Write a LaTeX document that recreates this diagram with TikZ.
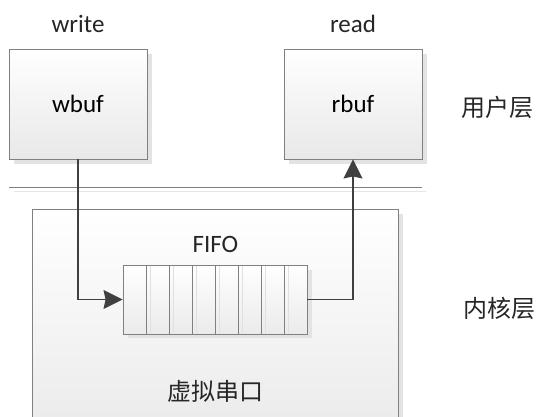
\documentclass[tikz,border=0pt]{standalone}
\usepackage{fontspec}
\setmainfont{Carlito}
\newfontfamily\cjk{Noto Sans CJK SC}
\usetikzlibrary{arrows.meta, shadows, positioning}
\definecolor{edgegray}{HTML}{808080}
\definecolor{linkgray}{HTML}{404040}
\tikzset{
  bufbox/.style={
    rectangle,
    minimum width=138pt,
    minimum height=110pt,
    draw=edgegray,
    line width=0.9pt,
    top color=white,
    bottom color=black!9,
    drop shadow={shadow xshift=5pt, shadow yshift=-5pt, fill=black!11, opacity=1},
    font=\fontsize{25}{30}\selectfont
    },
  kernelbox/.style={
    rectangle,
    minimum width=366pt,
    minimum height=222pt,
    draw=edgegray,
    line width=0.9pt,
    top color=white,
    bottom color=black!8,
    drop shadow={shadow xshift=5pt, shadow yshift=-5pt, fill=black!11, opacity=1}
    },
  fifocell/.style={
    rectangle,
    minimum width=23pt,
    minimum height=69pt,
    inner sep=0pt,
    draw=edgegray,
    line width=0.9pt,
    top color=white,
    bottom color=black!8
    },
  cellshade/.style={black!12, line width=0.8pt},
  tag/.style={font=\fontsize{25}{30}\selectfont, text=black!85},
  layer/.style={font=\cjk\fontsize{24}{28}\selectfont, text=black!85},
  link/.style={
    draw=linkgray,
    line width=1.3pt,
    -{Stealth[length=19pt, width=19pt, inset=2pt]}
    },
  sepline/.style={edgegray, line width=1pt}
}

\begin{document}
\begin{tikzpicture}[x=1pt, y=-1pt]
\useasboundingbox (0,0) rectangle (539,416);
\clip (0,0) rectangle (539,416);

% kernel side
\node (kernel) [kernelbox] at (215,320) {};
\node (vport) [layer] at (215,391) {虚拟串口};

% user / kernel separator
\draw[black!10, line width=1pt] (14,191) -- (426,191);
\draw[sepline] (9,187) -- (422,187);

% user buffers
\node (wbuf) [bufbox] at (78,104) {wbuf};
\node (rbuf) [bufbox] at (353,104) {rbuf};
\node (wcall) [tag, above=12pt of wbuf] {write};
\node (rcall) [tag, above=12pt of rbuf] {read};

% layer names
\node (userlayer) [layer] at (497,107) {用户层};
\node (kernlayer) [layer] at (499,308) {内核层};

% the queue
\fill[black!11] (128,270) rectangle (312,338);
\foreach \i in {1,...,8}
  \node (cell\i) [fifocell] at ({123+23*(\i-0.5)},299.5) {};
\foreach \i in {2,...,8}
  \draw[cellshade] ([xshift=5pt,yshift=-1pt]cell\i.north west) -- ([xshift=5pt,yshift=1pt]cell\i.south west);
\node (fifo) [tag, above=8pt of cell4.north east] {FIFO};

% data path
\draw[link] (wbuf.south) |- (cell1.west);
\draw[link] (cell8.east) -| (rbuf.south);
\end{tikzpicture}
\end{document}
